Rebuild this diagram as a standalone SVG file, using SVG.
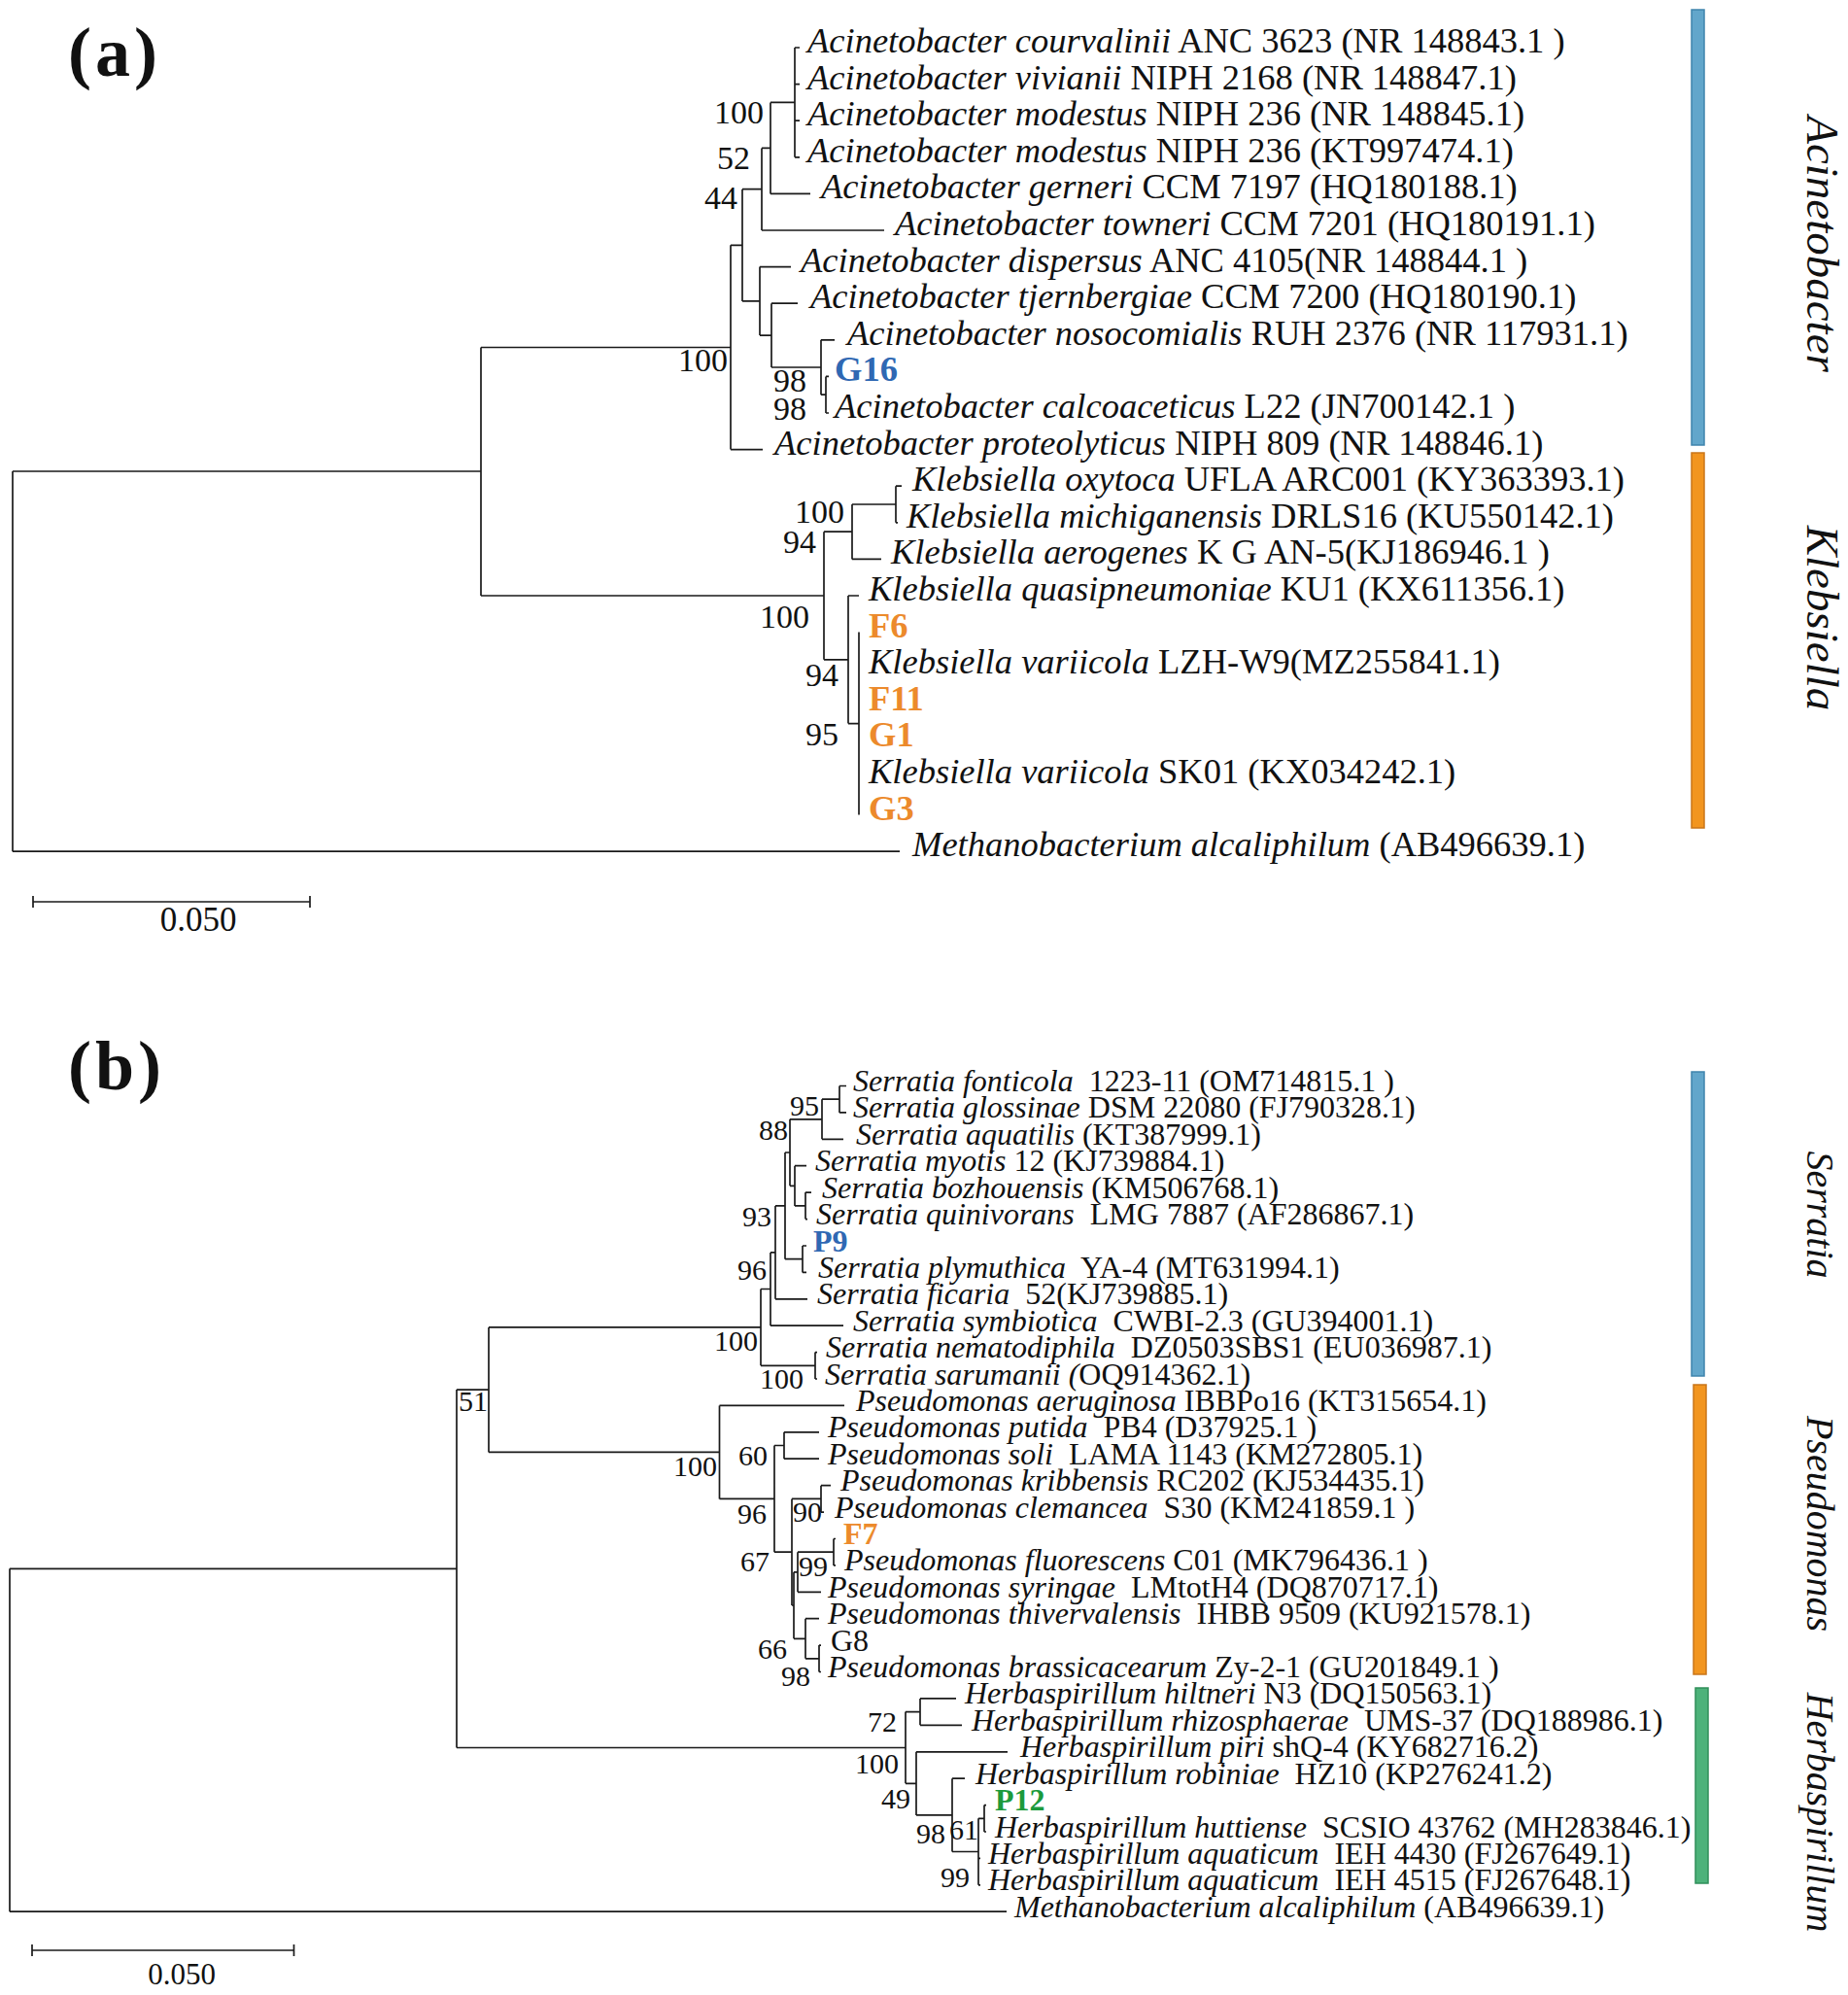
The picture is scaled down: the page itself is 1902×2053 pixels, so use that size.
<svg xmlns="http://www.w3.org/2000/svg" width="1902" height="2053" viewBox="0 0 1902 2053">
<style>
text{font-family:"Liberation Serif","Times New Roman",serif;fill:#111}
.ta{font-size:36.5px}
.tb{font-size:32px}
.i{font-style:italic}
.bs{font-size:34px;text-anchor:end}
.bsb{font-size:30px;text-anchor:end}
.iso{font-weight:bold}
.blue{fill:#2f68b3}
.orange{fill:#ec8a2c}
.green{fill:#1c9a3c}
.br{stroke:#1a1a1a;stroke-width:1.7;fill:none}
.gen{font-style:italic;text-anchor:middle}
.panel{font-weight:bold;font-size:72px;letter-spacing:4px}
</style>
<rect width="1902" height="2053" fill="#fff"/>

<g id="connectors">
<!-- panel a -->
<path class="br" d="M13 485V876.2M13 485H495M13 876.2H926
M495 357.5V613M495 357.5H752M495 613H848
M752 252.3V462.6M752 252.3H764M752 462.6H785
M764 194.7V309.9M764 194.7H784M764 309.9H782
M784 152.4V237M784 152.4H793M784 237H910
M793 105.4V199.4M793 105.4H818M793 199.4H834
M818 49V161.8M818 49H823M818 86.6H823M818 124.2H823M818 161.8H823
M782 274.6V345.1M782 274.6H814M782 345.1H794
M794 312.2V378M794 312.2H821M794 378H845
M845 349.8V406.2M845 349.8H859M845 406.2H850
M850 387.4V425M850 387.4H853M850 425H853
M848 547.2V678.8M848 547.2H877M848 678.8H873
M877 519V575.4M877 519H922M877 575.4H907
M922 500.2V537.8M922 500.2H928M922 537.8H924
M873 613V744.6M873 613H884M873 744.6H884
M884 650.6V838.6"/>
<!-- scale bar a -->
<path class="br" d="M34 928H319M34 922V934M319 922V934"/>
<!-- panel b -->
<path class="br" d="M10 1614.3V1967.2M10 1614.3H470M10 1967.2H1036
M470 1430.1V1798.5M470 1430.1H503M470 1798.5H932
M503 1365.9V1494.4M503 1365.9H783M503 1494.4H740.5
M783 1326.5V1405.3M783 1326.5H793M783 1405.3H839
M793 1288.9V1364.2M793 1288.9H798M793 1364.2H868
M798 1240.9V1336.8M798 1240.9H808M798 1336.8H831
M808 1186V1295.7M808 1186H813M808 1295.7H826
M813 1151.8V1220.3M813 1151.8H846M813 1220.3H818
M846 1131.2V1172.3M846 1131.2H864M846 1172.3H868
M864 1117.5V1144.9M864 1117.5H871M864 1144.9H871
M818 1199.7V1240.9M818 1199.7H830M818 1240.9H829
M829 1227.1V1254.6M829 1227.1H835M829 1254.6H831
M826 1282V1309.4M826 1282H830M826 1309.4H830
M839 1391.6V1419M839 1391.6H841M839 1419H841
M740.5 1446.4V1542.4M740.5 1446.4H869M740.5 1542.4H797
M797 1487.5V1597.2M797 1487.5H807M797 1597.2H815
M807 1473.8V1501.2M807 1473.8H843M807 1501.2H843
M815 1542.4V1652M815 1542.4H845M815 1652H817
M845 1528.7V1556.1M845 1528.7H855M845 1556.1H848
M817 1617.8V1686.3M817 1617.8H821M817 1686.3H829
M821 1597.2V1638.3M821 1597.2H858M821 1638.3H845
M858 1583.5V1610.9M858 1583.5H860M858 1610.9H860
M829 1665.7V1706.8M829 1665.7H843M829 1706.8H843
M843 1693.1V1720.5M843 1693.1H845M843 1720.5H845
M932 1761.6V1835.3M932 1761.6H947M932 1835.3H943
M947 1747.9V1775.3M947 1747.9H984M947 1775.3H990
M943 1802.8V1867.9M943 1802.8H1037M943 1867.9H980
M980 1830.2V1905.5M980 1830.2H993M980 1905.5H1007
M1007 1871.3V1939.8M1007 1871.3H1013M1007 1912.4H1009M1007 1939.8H1009
M1013 1857.6V1885M1013 1857.6H1015M1013 1885H1015"/>
<!-- scale bar b -->
<path class="br" d="M33 2007H302.5M33 2001V2013M302.5 2001V2013"/>
</g>

<!-- panel labels -->
<text class="panel" x="70" y="78">(a)</text>
<text class="panel" x="70" y="1121">(b)</text>
<text x="204" y="958" style="font-size:35px;text-anchor:middle">0.050</text>
<text x="187" y="2042" style="font-size:31px;text-anchor:middle">0.050</text>

<!-- clade bars -->
<g id="bar-acinetobacter"><rect x="1741" y="10" width="13" height="448" fill="#62a6cb" stroke="#3f84ad" stroke-width="1.5"/>
<text class="gen" style="font-size:47px" transform="translate(1860,251) rotate(90)">Acinetobacter</text></g>
<g id="bar-klebsiella"><rect x="1741" y="466" width="13" height="386" fill="#f2951f" stroke="#c9761a" stroke-width="1.5"/>
<text class="gen" style="font-size:47px" transform="translate(1860,636) rotate(90)">Klebsiella</text></g>
<g id="bar-serratia"><rect x="1741" y="1103" width="13" height="313" fill="#62a6cb" stroke="#3f84ad" stroke-width="1.5"/>
<text class="gen" style="font-size:40px" transform="translate(1860,1250) rotate(90)">Serratia</text></g>
<g id="bar-pseudomonas"><rect x="1743" y="1425" width="13" height="298" fill="#f2951f" stroke="#c9761a" stroke-width="1.5"/>
<text class="gen" style="font-size:40px" transform="translate(1860,1568) rotate(90)">Pseudomonas</text></g>
<g id="bar-herbaspirillum"><rect x="1745" y="1737" width="13" height="201" fill="#4db27a" stroke="#2f8f5a" stroke-width="1.5"/>
<text class="gen" style="font-size:40px" transform="translate(1860,1865) rotate(90)">Herbaspirillum</text></g>

<!-- bootstrap a -->
<g id="bootstrap-a">
<text class="bs" x="786" y="127">100</text>
<text class="bs" x="772" y="174">52</text>
<text class="bs" x="759" y="215">44</text>
<text class="bs" x="749" y="382">100</text>
<text class="bs" x="830" y="403">98</text>
<text class="bs" x="830" y="432">98</text>
<text class="bs" x="869" y="538">100</text>
<text class="bs" x="840" y="569">94</text>
<text class="bs" x="833" y="646">100</text>
<text class="bs" x="863" y="706">94</text>
<text class="bs" x="863" y="767">95</text>
</g>
<!-- bootstrap b -->
<g id="bootstrap-b">
<text class="bsb" x="843" y="1148">95</text>
<text class="bsb" x="811" y="1173">88</text>
<text class="bsb" x="794" y="1262">93</text>
<text class="bsb" x="789" y="1317">96</text>
<text class="bsb" x="780" y="1390">100</text>
<text class="bsb" x="827" y="1429">100</text>
<text class="bsb" x="502" y="1452">51</text>
<text class="bsb" x="738" y="1519">100</text>
<text class="bsb" x="790" y="1508">60</text>
<text class="bsb" x="789" y="1568">96</text>
<text class="bsb" x="846" y="1566">90</text>
<text class="bsb" x="792" y="1617">67</text>
<text class="bsb" x="852" y="1622">99</text>
<text class="bsb" x="810" y="1707">66</text>
<text class="bsb" x="834" y="1735">98</text>
<text class="bsb" x="923" y="1782">72</text>
<text class="bsb" x="925" y="1825">100</text>
<text class="bsb" x="937" y="1861">49</text>
<text class="bsb" x="973" y="1897">98</text>
<text class="bsb" x="1007" y="1893">61</text>
<text class="bsb" x="998" y="1942">99</text>
</g>

<!-- leaves a -->
<g id="a01"><text class="ta" x="831" y="54"><tspan class="i">Acinetobacter courvalinii</tspan> ANC 3623 (NR 148843.1 )</text></g>
<g id="a02"><text class="ta" x="831" y="91.6"><tspan class="i">Acinetobacter vivianii</tspan> NIPH 2168 (NR 148847.1)</text></g>
<g id="a03"><text class="ta" x="831" y="129.2"><tspan class="i">Acinetobacter modestus</tspan> NIPH 236 (NR 148845.1)</text></g>
<g id="a04"><text class="ta" x="831" y="166.8"><tspan class="i">Acinetobacter modestus</tspan> NIPH 236 (KT997474.1)</text></g>
<g id="a05"><text class="ta" x="845" y="204.4"><tspan class="i">Acinetobacter gerneri</tspan> CCM 7197 (HQ180188.1)</text></g>
<g id="a06"><text class="ta" x="921" y="242"><tspan class="i">Acinetobacter towneri</tspan> CCM 7201 (HQ180191.1)</text></g>
<g id="a07"><text class="ta" x="824" y="279.6"><tspan class="i">Acinetobacter dispersus</tspan> ANC 4105(NR 148844.1 )</text></g>
<g id="a08"><text class="ta" x="834" y="317.2"><tspan class="i">Acinetobacter tjernbergiae</tspan> CCM 7200 (HQ180190.1)</text></g>
<g id="a09"><text class="ta" x="872" y="354.8"><tspan class="i">Acinetobacter nosocomialis</tspan> RUH 2376 (NR 117931.1)</text></g>
<g id="a10"><text class="ta iso blue" x="859" y="392.4">G16</text></g>
<g id="a11"><text class="ta" x="859" y="430"><tspan class="i">Acinetobacter calcoaceticus</tspan> L22 (JN700142.1 )</text></g>
<g id="a12"><text class="ta" x="797" y="467.6"><tspan class="i">Acinetobacter proteolyticus</tspan> NIPH 809 (NR 148846.1)</text></g>
<g id="a13"><text class="ta" x="939" y="505.2"><tspan class="i">Klebsiella oxytoca</tspan> UFLA ARC001 (KY363393.1)</text></g>
<g id="a14"><text class="ta" x="933" y="542.8"><tspan class="i">Klebsiella michiganensis</tspan> DRLS16 (KU550142.1)</text></g>
<g id="a15"><text class="ta" x="917" y="580.4"><tspan class="i">Klebsiella aerogenes</tspan> K G AN-5(KJ186946.1 )</text></g>
<g id="a16"><text class="ta" x="894" y="618"><tspan class="i">Klebsiella quasipneumoniae</tspan> KU1 (KX611356.1)</text></g>
<g id="a17"><text class="ta iso orange" x="894" y="655.6">F6</text></g>
<g id="a18"><text class="ta" x="894" y="693.2"><tspan class="i">Klebsiella variicola</tspan> LZH-W9(MZ255841.1)</text></g>
<g id="a19"><text class="ta iso orange" x="894" y="730.8">F11</text></g>
<g id="a20"><text class="ta iso orange" x="894" y="768.4">G1</text></g>
<g id="a21"><text class="ta" x="894" y="806"><tspan class="i">Klebsiella variicola</tspan> SK01 (KX034242.1)</text></g>
<g id="a22"><text class="ta iso orange" x="894" y="843.6">G3</text></g>
<g id="a23"><text class="ta" x="939" y="881.2"><tspan class="i">Methanobacterium alcaliphilum</tspan> (AB496639.1)</text></g>

<!-- leaves b -->
<g id="b01"><text class="tb" x="878" y="1123"><tspan class="i">Serratia fonticola</tspan><tspan dx="8"> 1223-11 (OM714815.1 )</tspan></text></g>
<g id="b02"><text class="tb" x="878" y="1150.4"><tspan class="i">Serratia glossinae</tspan> DSM 22080 (FJ790328.1)</text></g>
<g id="b03"><text class="tb" x="881" y="1177.8"><tspan class="i">Serratia aquatilis</tspan> (KT387999.1)</text></g>
<g id="b04"><text class="tb" x="839" y="1205.2"><tspan class="i">Serratia myotis</tspan> 12 (KJ739884.1)</text></g>
<g id="b05"><text class="tb" x="846" y="1232.6"><tspan class="i">Serratia bozhouensis</tspan> (KM506768.1)</text></g>
<g id="b06"><text class="tb" x="840" y="1260.1"><tspan class="i">Serratia quinivorans</tspan><tspan dx="8"> LMG 7887 (AF286867.1)</tspan></text></g>
<g id="b07"><text class="tb iso blue" x="837" y="1287.5">P9</text></g>
<g id="b08"><text class="tb" x="842" y="1314.9"><tspan class="i">Serratia plymuthica</tspan><tspan dx="8"> YA-4 (MT631994.1)</tspan></text></g>
<g id="b09"><text class="tb" x="841" y="1342.3"><tspan class="i">Serratia ficaria</tspan><tspan dx="8"> 52(KJ739885.1)</tspan></text></g>
<g id="b10"><text class="tb" x="878" y="1369.7"><tspan class="i">Serratia symbiotica</tspan><tspan dx="8"> CWBI-2.3 (GU394001.1)</tspan></text></g>
<g id="b11"><text class="tb" x="850" y="1397.1"><tspan class="i">Serratia nematodiphila</tspan><tspan dx="8"> DZ0503SBS1 (EU036987.1)</tspan></text></g>
<g id="b12"><text class="tb" x="849" y="1424.5"><tspan class="i">Serratia sarumanii (</tspan>OQ914362.1)</text></g>
<g id="b13"><text class="tb" x="881" y="1451.9"><tspan class="i">Pseudomonas aeruginosa</tspan> IBBPo16 (KT315654.1)</text></g>
<g id="b14"><text class="tb" x="852" y="1479.3"><tspan class="i">Pseudomonas putida</tspan><tspan dx="8"> PB4 (D37925.1 )</tspan></text></g>
<g id="b15"><text class="tb" x="852" y="1506.7"><tspan class="i">Pseudomonas soli</tspan><tspan dx="8"> LAMA 1143 (KM272805.1)</tspan></text></g>
<g id="b16"><text class="tb" x="865" y="1534.2"><tspan class="i">Pseudomonas kribbensis</tspan> RC202 (KJ534435.1)</text></g>
<g id="b17"><text class="tb" x="859" y="1561.6"><tspan class="i">Pseudomonas clemancea</tspan><tspan dx="8"> S30 (KM241859.1 )</tspan></text></g>
<g id="b18"><text class="tb iso orange" x="868" y="1589">F7</text></g>
<g id="b19"><text class="tb" x="869" y="1616.4"><tspan class="i">Pseudomonas fluorescens</tspan> C01 (MK796436.1 )</text></g>
<g id="b20"><text class="tb" x="852" y="1643.8"><tspan class="i">Pseudomonas syringae</tspan><tspan dx="8"> LMtotH4 (DQ870717.1)</tspan></text></g>
<g id="b21"><text class="tb" x="852" y="1671.2"><tspan class="i">Pseudomonas thivervalensis</tspan><tspan dx="8"> IHBB 9509 (KU921578.1)</tspan></text></g>
<g id="b22"><text class="tb" x="855" y="1698.6">G8</text></g>
<g id="b23"><text class="tb" x="852" y="1726"><tspan class="i">Pseudomonas brassicacearum</tspan> Zy-2-1 (GU201849.1 )</text></g>
<g id="b24"><text class="tb" x="993" y="1753.4"><tspan class="i">Herbaspirillum hiltneri</tspan> N3 (DQ150563.1)</text></g>
<g id="b25"><text class="tb" x="1000" y="1780.8"><tspan class="i">Herbaspirillum rhizosphaerae</tspan><tspan dx="8"> UMS-37 (DQ188986.1)</tspan></text></g>
<g id="b26"><text class="tb" x="1050" y="1808.3"><tspan class="i">Herbaspirillum piri</tspan> shQ-4 (KY682716.2)</text></g>
<g id="b27"><text class="tb" x="1004" y="1835.7"><tspan class="i">Herbaspirillum robiniae</tspan><tspan dx="8"> HZ10 (KP276241.2)</tspan></text></g>
<g id="b28"><text class="tb iso green" x="1024" y="1863.1">P12</text></g>
<g id="b29"><text class="tb" x="1024" y="1890.5"><tspan class="i">Herbaspirillum huttiense</tspan><tspan dx="8"> SCSIO 43762 (MH283846.1)</tspan></text></g>
<g id="b30"><text class="tb" x="1017" y="1917.9"><tspan class="i">Herbaspirillum aquaticum</tspan><tspan dx="8"> IEH 4430 (FJ267649.1)</tspan></text></g>
<g id="b31"><text class="tb" x="1017" y="1945.3"><tspan class="i">Herbaspirillum aquaticum</tspan><tspan dx="8"> IEH 4515 (FJ267648.1)</tspan></text></g>
<g id="b32"><text class="tb" x="1044" y="1972.7"><tspan class="i">Methanobacterium alcaliphilum</tspan> (AB496639.1)</text></g>
</svg>
